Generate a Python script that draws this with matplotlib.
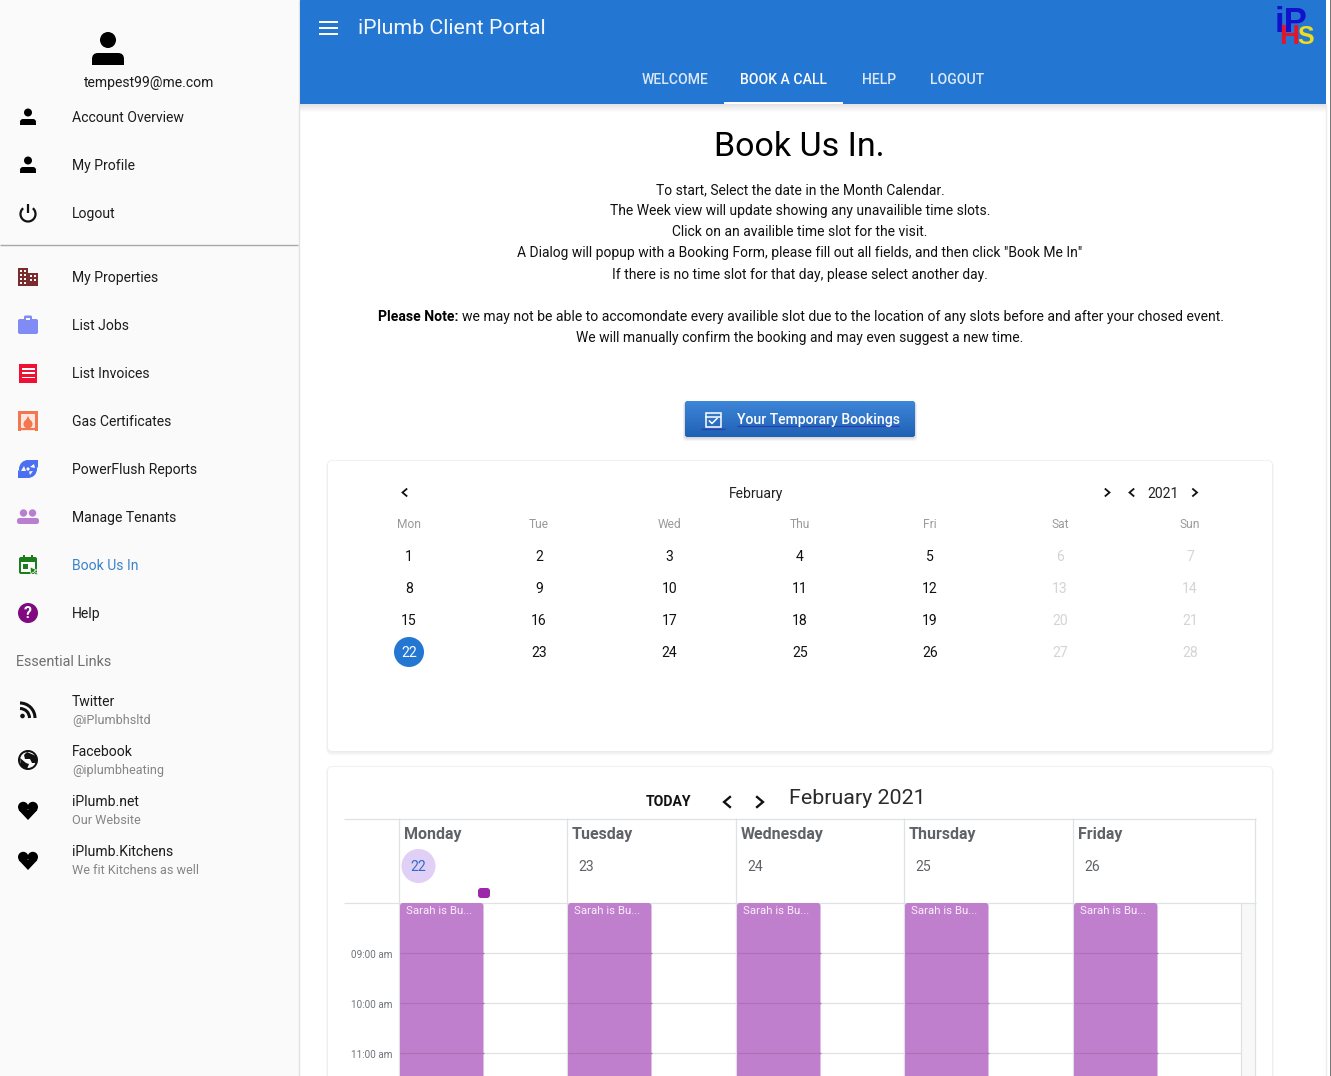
import matplotlib
matplotlib.use("Agg")
import matplotlib.pyplot as plt
from matplotlib.patches import FancyBboxPatch, Rectangle, Circle, Arc, Polygon

plt.rcParams['font.family'] = ['Roboto', 'DejaVu Sans']

# --- TEXT CONTENT ---
account_items = ["Account Overview", "My Profile", "Logout"]
main_items = ["My Properties", "List Jobs", "List Invoices", "Gas Certificates",
              "PowerFlush Reports", "Manage Tenants", "Book Us In", "Help"]
main_colors = ["#7b2b2b", "#7f8cf5", "#ee1133", "#f4764f", "#4a6ff0", "#b87fd0", "#1b7d1b", "#800a80"]
link_titles = ["Twitter", "Facebook", "iPlumb.net", "iPlumb.Kitchens"]
link_subs = ["@iPlumbhsltd", "@iplumbheating", "Our Website", "We fit Kitchens as well"]
tabs = ["WELCOME", "BOOK A CALL", "HELP", "LOGOUT"]
tab_x = [675, 783, 879, 957]
intro_lines = ["To start, Select the date in the Month Calendar.",
               "The Week view will update showing any unavailible time slots.",
               "Click on an availible time slot for the visit.",
               "A Dialog will popup with a Booking Form, please fill out all fields, and then click \"Book Me In\"",
               "If there is no time slot for that day, please select another day."]
note_rest = "we may not be able to accomondate every availible slot due to the location of any slots before and after your chosed event."
note_last = "We will manually confirm the booking and may even suggest a new time."
weekdays = ["Mon", "Tue", "Wed", "Thu", "Fri", "Sat", "Sun"]
month_x = [409, 539, 669.5, 800, 930, 1060, 1190]
week_names = ["Monday", "Tuesday", "Wednesday", "Thursday", "Friday"]
week_dates = [22, 23, 24, 25, 26]
week_x = [399.5, 567.5, 736.5, 904.5, 1073.5]
hours = ["09:00 am", "10:00 am", "11:00 am"]
hour_y = [953, 1003, 1053]

fig = plt.figure(figsize=(13.31, 10.76), dpi=100)
ax = fig.add_axes([0, 0, 1, 1])
ax.set_xlim(0, 1331)
ax.set_ylim(1076, 0)
ax.axis("off")

BLUE = "#2376d2"
INK = "#1c1c1c"


def px(size):
    # css pixels to points
    return size * 0.72


def label(x, y, s, size=14, color=INK, ha="left", weight="normal", z=10):
    # text sits about a pixel high with va=center
    return ax.text(x, y + 1, s, fontsize=px(size), color=color, ha=ha, va="center",
                   fontweight=weight, zorder=z)


def rect(x0, y0, x1, y1, color, z=1, alpha=1.0):
    r = Rectangle((x0, y0), x1 - x0, y1 - y0, fc=color, ec="none", zorder=z, alpha=alpha)
    ax.add_patch(r)
    return r


def rbox(x0, y0, x1, y1, r, color, z=1, alpha=1.0):
    box = FancyBboxPatch((x0 + r, y0 + r), x1 - x0 - 2 * r, y1 - y0 - 2 * r,
                         boxstyle=f"round,pad={r},rounding_size={r}",
                         fc=color, ec="none", zorder=z, alpha=alpha)
    ax.add_patch(box)
    return box


def hline(x0, x1, y, color="#dfe1e4", lw=0.9, z=3):
    ax.plot([x0, x1], [y, y], color=color, lw=lw, zorder=z, solid_capstyle="butt")


def vline(x, y0, y1, color="#dfe1e4", lw=0.9, z=3):
    # line snapping pushes x.5 one pixel right, so pull it back
    ax.plot([x - 0.5, x - 0.5], [y0, y1], color=color, lw=lw, zorder=z, solid_capstyle="butt")


def chevron(x, y, left=True, size=3.4, lw=1.3, color="#111111"):
    d = -size if left else size
    ax.plot([x - d / 1.7, x + d / 1.7, x - d / 1.7], [y - size, y, y + size], color=color,
            lw=lw, zorder=10, solid_joinstyle="miter")


def person(x, y, s=1.0, color="#000000"):
    ax.add_patch(Circle((x, y - 4.5 * s), 4 * s, fc=color, ec="none", zorder=8))
    rbox(x - 8 * s, y + 2 * s, x + 8 * s, y + 8 * s, 3 * s, color, z=8)
    rect(x - 8 * s, y + 5.5 * s, x + 8 * s, y + 8 * s, color, z=8)


def shadow(x0, y0, x1, y1, r=4):
    for i in range(5, 0, -1):
        rbox(x0 - i * 0.4, y0 - i * 0.25, x1 + i * 0.4, y1 + i * 0.9, r + i * 0.5, "#000000", z=1, alpha=0.016)


# --- BACKGROUND AND SIDEBAR ---
rect(0, 0, 1331, 1076, "#ffffff", z=0)
rect(0, 0, 299, 1076, "#fafafa", z=1)
vline(299.5, 0, 1076, color="#e2e2e2", lw=1)
vline(1326.5, 104, 1076, color="#ececec", lw=1)
rect(1329.5, 0, 1331, 1076, "#777777", z=6)

person(108, 49, 2.0)
label(149, 82, "tempest99@me.com", ha="center")

for i, name in enumerate(account_items):
    y = 117 + 48 * i
    label(72, y, name)
    if i < 2:
        person(28, y, 1.0)
    else:
        ax.add_patch(Arc((28, y + 1), 15, 15, theta1=-50, theta2=230, angle=0, ec="#111111", lw=1.6, zorder=8))
        vline(28.5, y - 9, y, color="#111111", lw=1.6, z=8)
hline(0, 298, 244.5, color="#a8a8a8", lw=1)

for i, (name, col) in enumerate(zip(main_items, main_colors)):
    y = 277 + 48 * i
    label(72, y, name, color="#3b83c9" if name == "Book Us In" else INK)
    if i == 0:
        rect(18, y - 9, 28, y + 9, col, z=8)
        rect(28, y - 4, 38, y + 9, col, z=8)
        for cx in (21, 25):
            for cy in (-6, -2, 2, 6):
                rect(cx - 1, y + cy - 1, cx + 1, y + cy + 1, "#fafafa", z=9)
        for cx in (31, 35):
            for cy in (-1, 3):
                rect(cx - 1, y + cy - 1, cx + 1, y + cy + 1, "#fafafa", z=9)
    elif i == 1:
        rbox(18, y - 6, 38, y + 9, 2, col, z=8)
        rbox(24, y - 9.5, 32, y - 3, 1.5, col, z=8)
        rect(26, y - 7.5, 30, y - 5.5, "#fafafa", z=9)
    elif i == 2:
        rect(19, y - 9.5, 37, y + 9.5, col, z=8)
        for dy in (-4.3, 0, 4.3):
            rect(22, y + dy - 0.8, 35, y + dy + 0.8, "#ffffff", z=9)
    elif i == 3:
        rect(18, y - 10, 38, y + 10, col, z=8)
        rect(21, y - 7, 35, y + 10, "#fbe7df", z=9)
        ax.add_patch(Circle((28, y + 3), 4.5, fc=col, ec="none", zorder=10))
        ax.add_patch(Polygon([(25, y + 1), (28, y - 5), (31, y + 1)], fc=col, ec="none", zorder=10))
        rect(21, y + 7, 35, y + 8.5, col, z=10)
    elif i == 4:
        ax.add_patch(Circle((28, y), 9, fc=col, ec="none", zorder=8))
        ax.add_patch(Polygon([(18, y + 9), (18, y + 1), (27, y + 9)], fc=col, ec="none", zorder=8))
        ax.add_patch(Polygon([(38, y - 9), (38, y - 1), (29, y - 9)], fc=col, ec="none", zorder=8))
        ax.add_patch(Circle((28, y), 1.6, fc="#fafafa", ec="none", zorder=9))
        ax.add_patch(Polygon([(30, y - 2), (34, y - 5), (35, y - 1)], fc="#fafafa", ec="none", zorder=9))
        ax.add_patch(Polygon([(29, y + 2.5), (33, y + 2), (30, y + 6)], fc="#fafafa", ec="none", zorder=9))
        ax.add_patch(Polygon([(26, y + 2), (21, y + 2), (24, y - 3)], fc="#fafafa", ec="none", zorder=9))
    elif i == 5:
        ax.add_patch(Circle((23.5, y - 4), 3.7, fc=col, ec="none", zorder=8))
        ax.add_patch(Circle((32.5, y - 4), 3.7, fc=col, ec="none", zorder=8))
        rbox(17, y + 1, 30, y + 7, 2.5, col, z=8)
        rbox(26, y + 1, 39, y + 7, 2.5, col, z=8)
    elif i == 6:
        rbox(19, y - 8, 37, y + 9, 2, col, z=8)
        rect(21, y - 3, 35, y + 7, "#fafafa", z=9)
        rect(23, y - 1, 28, y + 4, col, z=10)
        rect(23, y - 10, 25, y - 7, col, z=8)
        rect(31, y - 10, 33, y - 7, col, z=8)
        ax.add_patch(Polygon([(30, y + 2), (37, y + 5), (34, y + 6), (38, y + 9), (36, y + 10), (33, y + 7), (31, y + 9)],
                             fc=col, ec="#fafafa", lw=0.5, zorder=11))
    else:
        ax.add_patch(Circle((28, y), 10, fc=col, ec="none", zorder=8))
        ax.text(28, y + 0.3, "?", fontsize=px(16), color="#ffffff", ha="center", va="center",
                fontweight="bold", zorder=9)

label(16, 661, "Essential Links", size=14.4, color="#6f6f6f")

for i, (name, sub) in enumerate(zip(link_titles, link_subs)):
    y = 701 + 50 * i
    label(72, y, name)
    label(72, y + 18.5, sub, size=12.6, color="#858585")
    iy = y + 9
    if i == 0:
        ax.add_patch(Circle((22.5, iy + 6), 2.3, fc="#111111", ec="none", zorder=8))
        ax.add_patch(Arc((20, iy + 8), 19, 19, theta1=270, theta2=360, ec="#111111", lw=2.2, zorder=8))
        ax.add_patch(Arc((20, iy + 8), 30, 30, theta1=270, theta2=360, ec="#111111", lw=2.2, zorder=8))
    elif i == 1:
        ax.add_patch(Circle((28, iy), 10, fc="#111111", ec="none", zorder=8))
        ax.add_patch(Circle((28, iy), 8, fc="#fafafa", ec="none", zorder=9))
        ax.add_patch(Polygon([(27, iy - 8), (36, iy - 4), (36, iy + 3), (32, iy + 3), (30, iy - 1), (25, iy - 1), (24, iy - 5)],
                             fc="#111111", ec="none", zorder=10))
        ax.add_patch(Polygon([(20, iy - 2), (26, iy + 3), (29, iy + 4), (27, iy + 9), (21, iy + 6)],
                             fc="#111111", ec="none", zorder=10))
    else:
        ax.add_patch(Circle((23.2, iy - 3), 5.2, fc="#000000", ec="none", zorder=8))
        ax.add_patch(Circle((32.8, iy - 3), 5.2, fc="#000000", ec="none", zorder=8))
        ax.add_patch(Polygon([(18.6, iy), (37.4, iy), (28, iy + 10)], fc="#000000", ec="none", zorder=8))

# --- HEADER BAR ---
for i in range(8):
    rect(300, 104 + i, 1326, 105 + i, "#000000", z=2, alpha=0.11 * (1 - i / 8))
rect(300, 0, 1326, 104, BLUE, z=4)
for dy in (-6, 0, 6):
    rect(319, 28 + dy - 0.9, 338, 28 + dy + 0.9, "#ffffff", z=6)
label(358, 27, "iPlumb Client Portal", size=21.4, color="#f4f8fc", z=6)
for name, x in zip(tabs, tab_x):
    label(x, 79.5, name, color="#ffffff" if name == "BOOK A CALL" else "#dbe8f6", ha="center",
          weight="medium", z=6)
rect(724, 102, 843, 104, "#ffffff", z=6)

# logo
ax.text(1291, 23, "iP", fontsize=25, family="Liberation Sans", color="#1212cc", ha="center", va="center",
        fontweight="bold", zorder=6)
ax.text(1289.5, 37.5, "H", fontsize=20, family="Liberation Sans", color="#e3152b", ha="center", va="center",
        fontweight="bold", zorder=8)
ax.text(1306, 37.5, "S", fontsize=18, family="Liberation Sans", color="#eedc1e", ha="center", va="center",
        fontweight="bold", zorder=7)

# --- INTRO TEXT ---
label(799.5, 146, "Book Us In.", size=34, color="#000000", ha="center")
for i, line in enumerate(intro_lines):
    label(800, 189.5 + 21 * i, line, size=13.95, ha="center", color="#111111")
label(378, 316, "Please Note:", color="#000000", weight="bold")
label(462, 316, note_rest, size=13.96, color="#111111")
label(800, 337, note_last, size=13.95, ha="center", color="#111111")

# --- BOOKINGS BUTTON ---
for i in range(4, 0, -1):
    rbox(685 - i * 0.5, 402, 915 + i * 0.5, 437 + i, 3, "#000000", z=1, alpha=0.04)
btn = rbox(685, 401, 915, 437, 3, "#2a6fc4", z=2)
steps = 18
for i in range(steps):
    t = i / (steps - 1)
    c = (0.24 - 0.12 * t, 0.52 - 0.14 * t, 0.84 - 0.13 * t)
    strip = rect(685, 401 + i * 2, 915, 403.5 + i * 2, c, z=3)
    strip.set_clip_path(btn)
ax.add_patch(Rectangle((705.5, 413), 15, 14, fc="none", ec="#ffffff", lw=1.1, zorder=6))
hline(705, 721, 416.5, color="#ffffff", lw=1.1, z=6)
ax.plot([709.5, 712, 717], [421, 423.5, 418.5], color="#ffffff", lw=1.1, zorder=6)
hline(701, 725, 429, color="#2a3fb0", lw=1, z=6)
hline(737, 899, 425.5, color="#2a3fb0", lw=0.9, z=5)
label(737, 419, "Your Temporary Bookings", color="#ffffff", weight="medium", z=6)

# --- MONTH CALENDAR CARD ---
shadow(328, 461, 1272, 751)
rbox(328, 461, 1272, 751, 4, "#ffffff", z=2)
chevron(404.5, 492.5, left=True)
label(756, 493, "February", size=14, color="#222222", ha="center")
chevron(1107.5, 492.5, left=False)
chevron(1131.5, 492.5, left=True)
label(1163, 492.5, "2021", color="#222222", ha="center")
chevron(1195, 492.5, left=False)

for name, x in zip(weekdays, month_x):
    label(x, 523.5, name, size=12, color="#9a9a9a", ha="center")

ax.add_patch(Circle((409, 652), 15, fc=BLUE, ec="none", zorder=8))
for day in range(1, 29):
    row = (day - 1) // 7
    col = (day - 1) % 7
    y = 556 + 32 * row
    if day == 22:
        label(month_x[col], y, str(day), color="#ffffff", ha="center")
    elif col >= 5:
        label(month_x[col], y, str(day), color="#d4d4d4", ha="center")
    else:
        label(month_x[col], y, str(day), color="#111111", ha="center")

# --- WEEK CALENDAR CARD ---
shadow(328, 767, 1272, 1090)
rbox(328, 767, 1272, 1090, 4, "#ffffff", z=2)
label(668, 800.5, "TODAY", color="#111111", ha="center", weight="bold")
chevron(727, 802, left=True, size=5, lw=1.7)
chevron(760, 802, left=False, size=5, lw=1.7)
label(789, 797.5, "February 2021", size=21.4, color="#2b2b2b")

hline(344, 1256, 818.5)
hline(344, 1256, 902.5)
for y in hour_y:
    hline(399, 1241, y)
rect(1241, 903, 1256, 1076, "#f8f8f8", z=2)
vline(1241.5, 903, 1076)
vline(1255.5, 818, 1076)
for x in week_x:
    vline(x, 818, 1076)

for i, (name, date, x) in enumerate(zip(week_names, week_dates, week_x)):
    label(x + 4.5, 834, name, size=16, color="#5f6368", weight="bold")
    if i == 0:
        ax.add_patch(Circle((x + 19, 866), 17, fc="#e1d0f5", ec="none", zorder=8))
        label(x + 19, 866, str(date), color="#3069cf", ha="center")
    else:
        label(x + 19, 866, str(date), color="#5f6368", ha="center")
    # busy block, hour lines stay visible on top of it
    rbox(x + 0.5, 903, x + 84, 1100, 3, "#c07fcc", z=4)
    for y in hour_y:
        hline(x + 0.5, x + 84, y, color="#ac72b8", lw=0.9, z=5)
    label(x + 6.5, 910.5, "Sarah is Bu...", size=11.4, color="#fbeefd", z=6)

rbox(478, 888, 490, 898, 3, "#9c27a8", z=8)

for name, y in zip(hours, hour_y):
    ax.text(392.5, y + 1.5, name, fontsize=px(10), color="#70757a", ha="right", va="center", zorder=10)

fig.savefig("out.png", dpi=100)
plt.close(fig)
